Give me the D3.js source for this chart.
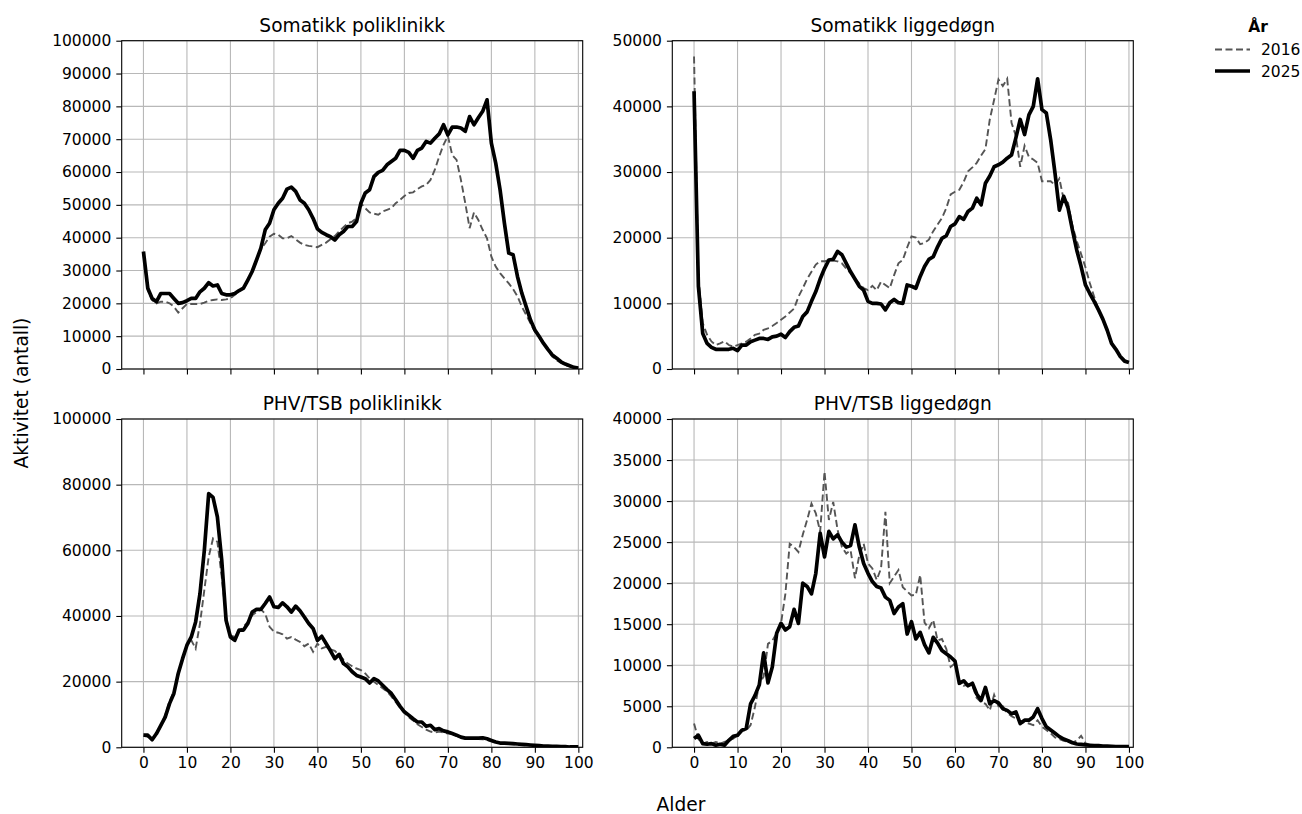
<!DOCTYPE html>
<html>
<head>
<meta charset="utf-8">
<script src="https://cdn.jsdelivr.net/npm/d3@7"></script>
<style>
  body { margin: 0; background: #fff; }
  text { font-family: "DejaVu Sans", sans-serif; fill: #000; }
</style>
</head>
<body>
<script>
// ages on the x axis, 0..100
const ages = d3.range(0, 101);
const xTicks = [0, 10, 20, 30, 40, 50, 60, 70, 80, 90, 100];

// Somatikk poliklinikk
const somPoli2016 = [35000,24000,21000,20000,20500,20500,20000,19000,17200,18500,19800,19800,19800,19800,20200,20800,21000,21200,21000,21200,
  21500,22600,23800,24500,27000,29500,33000,36500,38300,40300,41200,40900,39800,39800,40500,39500,38500,37800,37500,37300,
  37100,37800,38500,39500,40500,41900,43200,44400,44900,45900,50500,49000,47700,47300,47000,48000,48500,49000,50500,51500,
  52700,53600,53800,54800,55600,56100,57600,60700,64700,68300,71000,65200,63700,57600,50500,42900,47700,45400,42400,39800,
  34200,31200,29200,27600,26100,24300,22100,19000,16500,13900,11400,9900,7800,5800,3800,2700,1900,1200,800,500,300];
const somPoli2025 = [35800,24600,21500,20500,23000,23000,23000,21500,20000,20200,20800,21500,21500,23500,24600,26300,25300,25600,23000,22600,
  22600,23000,23900,24600,27100,29700,33200,36800,42400,44400,48500,50500,52000,54800,55400,54100,51500,50500,48500,45900,
  42700,41600,40900,40300,39300,40900,41900,43400,43400,44900,50500,53600,54600,58600,59900,60500,62200,63200,64200,66600,
  66600,66000,64200,66600,67300,69300,68800,70300,71600,74400,71300,73700,73700,73400,72400,76900,74400,76500,78500,82000,
  68800,62700,54600,44400,35300,34800,28200,23100,19000,14900,11900,9900,7800,6000,4300,3300,2200,1500,1000,500,300];

// Somatikk liggedøgn
const somLigg2016 = [47600,14000,7000,5200,4200,3650,3900,4200,3650,3400,3650,3900,4150,4650,5200,5400,5950,6200,6550,7000,
  7500,8000,8600,9200,11000,12300,13700,14800,15900,16400,16400,16600,16500,16400,16100,15300,14600,13800,13000,12300,
  12000,12650,12000,13300,12800,12300,14300,16100,16600,18500,20200,20000,19000,19200,19700,21000,22000,23000,24500,26600,
  27000,27300,28500,30100,30700,31400,32500,33500,38000,41000,44100,43100,44200,37500,35500,30800,34000,32300,31900,31400,
  28600,28600,28600,28000,29000,25800,25300,21800,19500,17500,15500,13100,11000,9000,7500,5800,4000,3000,2000,1300,1000];
const somLigg2025 = [42300,12600,5400,3900,3300,3000,3000,3000,3000,3150,2800,3650,3650,4150,4400,4650,4650,4500,4900,5000,
  5300,4800,5700,6350,6550,8000,8700,10300,11800,13700,15300,16600,16700,17900,17400,16100,14800,13700,12600,12000,
  10300,10000,10000,9900,9000,10100,10600,10100,10000,12800,12600,12300,14100,15600,16700,17100,18600,19900,20300,21700,
  22100,23200,22800,24000,24500,26000,25000,28300,29400,30800,31100,31500,32100,32600,35200,38000,35700,38700,40000,44200,
  39500,39000,34900,29800,24200,26300,24500,21200,18100,15600,12800,11500,10300,9000,7600,5900,3900,3000,1900,1200,1000];

// PHV/TSB poliklinikk
const phvPoli2016 = [3500,3200,2500,4000,6500,9800,14000,17000,22000,27000,31000,32600,30100,37700,47900,58000,63600,62600,51900,39700,
  34100,33600,35200,36700,38200,40200,41200,42000,40700,36700,35200,34900,34400,33100,33600,32800,32100,30800,31600,29100,
  31600,30100,30600,29800,29400,28000,26700,25500,24700,24000,23500,22500,21000,20000,19000,18000,17000,15500,13800,12000,
  10500,9200,8200,7000,6200,5400,4800,4500,4800,4500,4200,4000,3500,3000,2700,2600,2500,2500,2400,2200,
  1900,1500,1200,1100,1000,900,800,700,600,500,450,400,350,300,250,200,150,100,100,80,50];
const phvPoli2025 = [3700,3700,2300,4200,6700,9200,13300,16400,22500,27000,31100,33600,38200,46800,60000,77300,76100,70200,57000,38700,
  33600,32600,35700,35700,37700,41200,42000,42000,43800,45800,42800,42600,44000,42800,41200,43000,41600,39700,37700,36200,
  32600,33800,31600,29400,27000,28300,25500,24500,23000,21900,21400,20900,19600,20900,20200,18900,17600,16400,14500,12500,
  10800,9800,8700,7700,7700,6400,6700,5400,5700,5000,4700,4200,3700,3100,2800,2800,2800,2800,2900,2600,
  2100,1600,1300,1300,1200,1100,1000,900,800,700,600,500,400,400,300,300,200,200,100,100,100];

// PHV/TSB liggedøgn
const phvLigg2016 = [2900,1000,450,650,450,650,450,650,850,1050,1460,2070,2070,2700,4900,7800,8600,12600,13000,13900,
  15100,18700,24800,24400,23800,25900,27700,29700,28500,26300,33600,27700,29900,26500,24400,23600,24000,20600,23400,24800,
  22400,21800,20400,21800,28700,20000,20800,21600,19500,19000,18500,18600,21000,15200,14500,15500,13000,13200,12000,9800,
  10200,7800,7500,7600,7500,6000,5500,5300,4500,6400,5000,5000,4200,3800,3500,3200,3000,2900,2700,3300,
  2500,2100,1700,1200,1000,800,700,600,800,1400,500,300,250,200,150,150,100,100,80,80,60];
const phvLigg2025 = [1060,1460,450,370,450,250,370,250,850,1340,1460,2070,2280,5300,6300,7600,11500,7850,9800,13900,
  15100,14300,14700,16800,15100,20000,19600,18700,21200,26100,23200,26300,25400,25900,25000,24400,24600,27100,24400,22400,
  21200,20200,19600,19400,18300,17900,16300,17100,17500,13800,15300,13200,14000,12500,11500,13400,12700,11800,11400,11000,
  10500,7800,8100,7500,7800,6500,5700,7300,5300,5700,5400,4700,4500,4100,4300,2900,3300,3300,3700,4700,
  3500,2500,2100,1700,1300,1000,800,550,400,350,300,250,200,200,150,150,120,100,100,80,80];

// y tick labels per panel
const ticksSomPoli = d3.range(0, 100001, 10000);
const ticksSomLigg = d3.range(0, 50001, 10000);
const ticksPhvPoli = d3.range(0, 100001, 20000);
const ticksPhvLigg = d3.range(0, 40001, 5000);

const years = ["2016", "2025"];

const panels = [
  {title: "Somatikk poliklinikk", left: 121.7, top: 40.7, ymax: 100000, ticks: ticksSomPoli, d16: somPoli2016, d25: somPoli2025, xlabels: false},
  {title: "Somatikk liggedøgn", left: 672.3, top: 40.7, ymax: 50000, ticks: ticksSomLigg, d16: somLigg2016, d25: somLigg2025, xlabels: false},
  {title: "PHV/TSB poliklinikk", left: 121.7, top: 419, ymax: 100000, ticks: ticksPhvPoli, d16: phvPoli2016, d25: phvPoli2025, xlabels: true},
  {title: "PHV/TSB liggedøgn", left: 672.3, top: 419, ymax: 40000, ticks: ticksPhvLigg, d16: phvLigg2016, d25: phvLigg2025, xlabels: true}
];

const width = 461;
const height = 328.3;
const fontSize = 15.5;

var svg = d3.select("body")
  .append("svg")
  .attr("width", 1302)
  .attr("height", 814);

panels.forEach(function(p) {
  var x = d3.scaleLinear().domain([-5, 101]).range([0, width]);
  var y = d3.scaleLinear().domain([0, p.ymax]).range([height, 0]);

  var g = svg.append("g").attr("transform", "translate(" + p.left + "," + p.top + ")");

  // grid
  g.append("g").selectAll("line")
    .data(xTicks).enter().append("line")
    .attr("x1", function(d) { return x(d); }).attr("x2", function(d) { return x(d); })
    .attr("y1", 0).attr("y2", height)
    .attr("stroke", "#b8b8b8").attr("stroke-width", 1.1);

  g.append("g").selectAll("line")
    .data(p.ticks).enter().append("line")
    .attr("x1", 0).attr("x2", width)
    .attr("y1", function(d) { return y(d); }).attr("y2", function(d) { return y(d); })
    .attr("stroke", "#b8b8b8").attr("stroke-width", 1.1);

  // axes
  var yAxis = d3.axisLeft(y).tickValues(p.ticks).tickSize(5.4).tickPadding(5).tickFormat(d3.format("d"));
  var xAxis = d3.axisBottom(x).tickValues(xTicks).tickSize(5.4).tickPadding(4.5);
  if (!p.xlabels) xAxis.tickFormat("");

  var ya = g.append("g").call(yAxis);
  var xa = g.append("g").attr("transform", "translate(0," + height + ")").call(xAxis);
  [ya, xa].forEach(function(a) {
    a.select(".domain").remove();
    a.selectAll("line").attr("stroke", "#000").attr("stroke-width", 1.1);
    a.selectAll("text").style("font-size", fontSize + "px").style("font-family", "DejaVu Sans").attr("fill", "#000");
  });

  var line = d3.line()
    .x(function(d, i) { return x(ages[i]); })
    .y(function(d) { return y(d); });

  var clipId = "clip" + p.left + "_" + p.top;
  g.append("clipPath").attr("id", clipId.replace(".", "")).append("rect")
    .attr("width", width).attr("height", height);

  var lines = g.append("g").attr("clip-path", "url(#" + clipId.replace(".", "") + ")");

  lines.append("path")
    .datum(p.d16)
    .attr("d", line)
    .attr("fill", "none")
    .attr("stroke", "#555")
    .attr("stroke-width", 1.9)
    .attr("stroke-dasharray", "7,3.5");

  lines.append("path")
    .datum(p.d25)
    .attr("d", line)
    .attr("fill", "none")
    .attr("stroke", "#000")
    .attr("stroke-width", 3.7)
    .attr("stroke-linejoin", "round");

  // frame
  g.append("rect")
    .attr("width", width).attr("height", height)
    .attr("fill", "none").attr("stroke", "#000").attr("stroke-width", 1.1);

  g.append("text")
    .attr("x", width / 2).attr("y", -9)
    .attr("text-anchor", "middle")
    .style("font-size", "18.6px")
    .text(p.title);
});

// shared axis labels
svg.append("text")
  .attr("transform", "translate(28,393) rotate(-90)")
  .attr("text-anchor", "middle")
  .style("font-size", "18.6px")
  .text("Aktivitet (antall)");

svg.append("text")
  .attr("x", 681).attr("y", 811)
  .attr("text-anchor", "middle")
  .style("font-size", "18.6px")
  .text("Alder");

// legend
var leg = svg.append("g");
leg.append("text")
  .attr("x", 1258).attr("y", 31.5)
  .attr("text-anchor", "middle")
  .style("font-size", fontSize + "px")
  .style("font-weight", "bold")
  .text("År");

var legItems = leg.selectAll("g.item")
  .data(years).enter().append("g")
  .attr("transform", function(d, i) { return "translate(0," + (49.5 + i * 21.5) + ")"; });

legItems.append("line")
  .attr("x1", 1215).attr("x2", 1250)
  .attr("stroke", function(d, i) { return i == 0 ? "#555" : "#000"; })
  .attr("stroke-width", function(d, i) { return i == 0 ? 1.9 : 3.7; })
  .attr("stroke-dasharray", function(d, i) { return i == 0 ? "7,3.5" : null; });

legItems.append("text")
  .attr("x", 1261).attr("y", 5.5)
  .style("font-size", fontSize + "px")
  .text(function(d) { return d; });
</script>
</body>
</html>
